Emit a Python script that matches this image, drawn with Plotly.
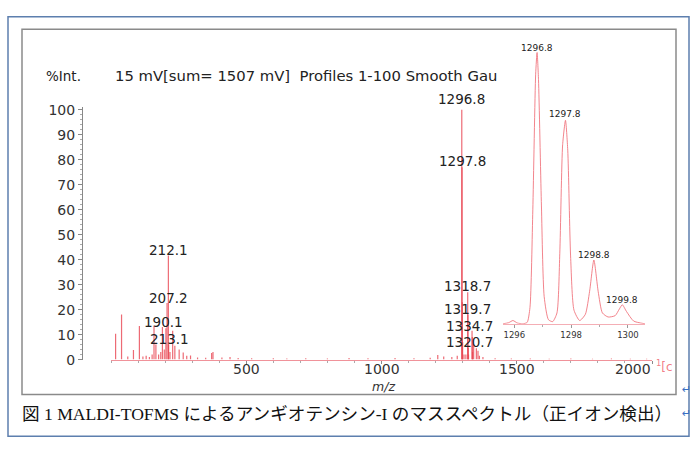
import plotly.graph_objects as go

W, H = 700, 449

# ---------------- data ----------------
# main stick spectrum: m/z and relative intensity (%Int.)
peak_mz = [17, 39, 62, 83, 105, 118, 130, 142, 152, 159, 166, 176, 184, 190.1, 197,
           203, 207.2, 212.1, 213.1, 218, 228, 236, 252, 267, 280, 294, 320, 350,
           372, 377, 410, 440, 470, 520, 600, 650, 720, 800, 880, 950, 1050, 1120,
           1180, 1208, 1230, 1260, 1280, 1296.8, 1297.8, 1298.8, 1299.8, 1305, 1312,
           1318.7, 1319.7, 1320.7, 1321.7, 1334.7, 1335.7, 1336.7, 1340.7, 1350.7,
           1356.7, 1362, 1375, 1420, 1480, 1550, 1620, 1700, 1780, 1850, 1920, 1980]
peak_int = [10.3, 18, 1.2, 3.8, 13.4, 1.2, 1.5, 1.0, 2.0, 13.5, 6, 2, 3, 13, 4,
            12.5, 22.7, 41.7, 6, 3, 11.5, 5.5, 4, 2.8, 1.5, 1.6, 0.8, 0.7,
            2.6, 3, 0.8, 1.0, 0.6, 0.5, 0.5, 0.4, 0.5, 0.4, 0.6, 0.5, 0.6, 0.5,
            0.7, 1.8, 1.2, 1.0, 1.5, 100, 77, 23, 7, 2, 2,
            27, 18, 4.6, 2, 11.5, 9, 3, 6, 4.5,
            3.5, 1.5, 1.0, 0.5, 0.4, 0.4, 0.3, 0.4, 0.3, 0.4, 0.3, 0.3]

# labelled peaks of the main spectrum
label_text = ["1296.8", "1297.8", "1318.7", "1319.7", "1334.7", "1320.7",
              "212.1", "207.2", "190.1", "213.1"]

# inset: isotope profile (m/z, %Int.)
inset_mz = [1295.6, 1295.8, 1295.95, 1296.1, 1296.3, 1296.45, 1296.55, 1296.65, 1296.75,
            1296.8, 1296.85, 1296.95, 1297.05, 1297.2, 1297.35, 1297.5, 1297.6, 1297.7,
            1297.8, 1297.88, 1297.98, 1298.1, 1298.3, 1298.5, 1298.65, 1298.8, 1298.95,
            1299.1, 1299.3, 1299.55, 1299.7, 1299.8, 1299.95, 1300.2, 1300.6]
inset_int = [0, 0.4, 1.2, 0.3, 0, 0.5, 6, 42, 92,
             100, 90, 45, 10, 1.5, 0.8, 4, 26, 66,
             75, 64, 25, 5, 1.2, 3.5, 12, 23.5, 12,
             4, 2.5, 3, 5.5, 7, 4.5, 1, 0]
inset_labels = ["1296.8", "1297.8", "1298.8", "1299.8"]

x_ticks = [500, 1000, 1500, 2000]
y_ticks = list(range(0, 101, 10))
inset_ticks = [1296, 1298, 1300]

header_left = "%Int."
header_right = "15 mV[sum= 1507 mV]  Profiles 1-100 Smooth Gau"
caption = "図 1 MALDI-TOFMS によるアンギオテンシン-I のマススペクトル（正イオン検出）"

# ---------------- layout helpers ----------------
def fx(p):
    return p / W

def fy(p):
    return 1 - p / H

SANS = "DejaVu Sans"
RED = "rgba(232,70,82,0.8)"

# stick spectrum built from the peak lists
sx, sy = [], []
for m, v in zip(peak_mz, peak_int):
    sx += [m, m, None]
    sy += [0, v, None]

fig = go.Figure()
fig.add_trace(go.Scatter(x=sx, y=sy, mode="lines", line=dict(color=RED, width=1.2),
                         hoverinfo="skip", showlegend=False, xaxis="x", yaxis="y"))
fig.add_trace(go.Scatter(x=inset_mz, y=inset_int, mode="lines",
                         line=dict(color="rgba(240,110,120,0.85)", width=1, shape="spline", smoothing=0.6),
                         hoverinfo="skip", showlegend=False, xaxis="x2", yaxis="y2"))

y0_px, ypp = 365, 2.58   # main axis: baseline pixel, pixels per %
iy0_px, iypp = 328, 2.8  # inset axis

fig.update_layout(
    width=W, height=H, margin=dict(l=0, r=0, t=0, b=0),
    paper_bgcolor="white", plot_bgcolor="rgba(0,0,0,0)",
    showlegend=False,
    xaxis=dict(domain=[fx(111), fx(652)], range=[0, 2000], anchor="y",
               showline=True, linecolor="rgba(235,110,120,0.75)", linewidth=1,
               showgrid=False, zeroline=False, showticklabels=False,
               tickmode="array", tickvals=x_ticks,
               ticks="outside", ticklen=3, tickcolor="#888",
               minor=dict(tickmode="linear", tick0=0, dtick=100, ticks="outside", ticklen=2, tickcolor="#aaa")),
    yaxis=dict(domain=[fy(y0_px), fy(y0_px - 101 * ypp)], range=[0, 101],
               anchor="free", position=fx(82), side="left",
               showline=True, linecolor="#888", linewidth=1,
               showgrid=False, zeroline=False,
               tickmode="array", tickvals=y_ticks,
               ticks="outside", ticklen=4, tickcolor="#888",
               minor=dict(tickmode="linear", tick0=0, dtick=2, ticks="outside", ticklen=2, tickcolor="#aaa"),
               tickfont=dict(family=SANS, size=14, color="#333")),
    xaxis2=dict(domain=[fx(503), fx(645)], range=[1295.6, 1300.6], anchor="y2",
                showline=True, linecolor="rgba(240,140,150,0.7)", linewidth=1,
                showgrid=False, zeroline=False,
                tickmode="array", tickvals=inset_ticks,
                ticks="outside", ticklen=3, tickcolor="#999",
                minor=dict(tickmode="linear", tick0=1296, dtick=1, ticks="outside", ticklen=2, tickcolor="#aaa"),
                tickfont=dict(family=SANS, size=8.5, color="#333")),
    yaxis2=dict(domain=[fy(iy0_px), fy(iy0_px - 101 * iypp)], range=[0, 101], anchor="x2",
                visible=False),
)

ann = []
# header
ann.append(dict(x=fx(44), y=fy(72), xref="paper", yref="paper", text=header_left,
                showarrow=False, xanchor="left", yanchor="middle",
                font=dict(family=SANS, size=13.5, color="#222")))
ann.append(dict(x=fx(113), y=fy(72), xref="paper", yref="paper", text=header_right,
                showarrow=False, xanchor="left", yanchor="middle",
                font=dict(family=SANS, size=14.8, color="#222")))

# main peak labels, positioned in figure pixels (x, y)
label_pos = {"1296.8": (461, 96), "1297.8": (462, 160), "1318.7": (467, 289),
             "1319.7": (467, 313), "1334.7": (470, 330), "1320.7": (470, 347),
             "212.1": (168, 252), "207.2": (168, 301), "190.1": (163, 326),
             "213.1": (169, 344)}
for t in label_text:
    px_, py_ = label_pos[t]
    ann.append(dict(x=fx(px_), y=fy(py_), xref="paper", yref="paper", text=t, showarrow=False,
                    xanchor="center", yanchor="middle",
                    font=dict(family=SANS, size=13.5, color="#222")))

# inset peak labels, positioned in figure pixels
inset_label_pos = {"1296.8": (537, 43), "1297.8": (565, 111),
                   "1298.8": (594, 257), "1299.8": (622, 303)}
for t in inset_labels:
    px_, py_ = inset_label_pos[t]
    ann.append(dict(x=fx(px_), y=fy(py_), xref="paper", yref="paper", text=t, showarrow=False,
                    xanchor="center", yanchor="middle",
                    font=dict(family=SANS, size=9, color="#222")))

# x tick labels (the last one is right-aligned at the axis end)
for t in x_ticks:
    last = t == x_ticks[-1]
    ann.append(dict(x=t, y=fy(375), xref="x", yref="paper", text=str(t), showarrow=False,
                    xanchor="right" if last else "center", yanchor="middle",
                    xshift=1 if last else 0,
                    font=dict(family=SANS, size=14, color="#333")))
# axis title
ann.append(dict(x=fx(383), y=fy(393), xref="paper", yref="paper", text="<i>m/z</i>",
                showarrow=False, xanchor="center", yanchor="middle",
                font=dict(family=SANS, size=12.5, color="#333")))
# clipped legend tag
ann.append(dict(x=fx(654), y=fy(372), xref="paper", yref="paper", text="<sup>1</sup>[c",
                showarrow=False, xanchor="left", yanchor="middle",
                font=dict(family=SANS, size=12, color="rgba(240,110,120,0.9)")))
# caption
ann.append(dict(x=fx(20), y=fy(421), xref="paper", yref="paper", text=caption,
                showarrow=False, xanchor="left", yanchor="middle",
                font=dict(family="Liberation Serif, Noto Sans CJK JP", size=17.6, color="#111")))
# paragraph marks
for yy in (396, 421):
    ann.append(dict(x=fx(686), y=fy(yy), xref="paper", yref="paper", text="↵",
                    showarrow=False, xanchor="center", yanchor="middle",
                    font=dict(family=SANS, size=11, color="#3a6fc4")))

fig.update_layout(annotations=ann)

fig.update_layout(shapes=[
    dict(type="rect", xref="paper", yref="paper", x0=fx(8), x1=fx(689), y0=fy(444), y1=fy(11),
         line=dict(color="#5d7fae", width=1.5), layer="below"),
    dict(type="rect", xref="paper", yref="paper", x0=fx(22), x1=fx(676), y0=fy(401), y1=fy(24),
         line=dict(color="#8a8a8a", width=1.5), layer="below"),
])

fig.write_html("out.html")
